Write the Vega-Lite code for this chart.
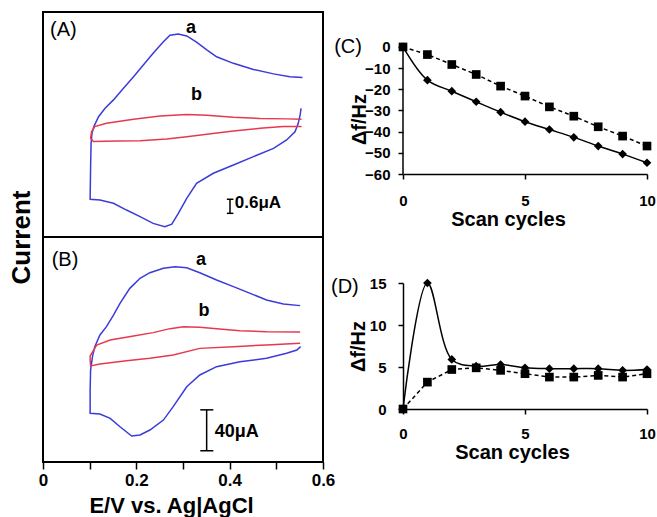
{
  "$schema": "https://vega.github.io/schema/vega-lite/v6.json",
  "padding": {"left": 7, "top": 11, "right": 0, "bottom": 0},
  "config": {
    "font": "Liberation Sans",
    "view": {"stroke": null},
    "axis": {"grid": false, "domainColor": "black", "tickColor": "black", "labelColor": "black", "titleColor": "black", "labelFontWeight": "bold", "titleFontWeight": "bold", "domainWidth": 1.5, "tickWidth": 1.5}
  },
  "datasets": {
    "cv": [
      {"panel": "A", "curve": "a", "i": 1, "E": 0.556, "I": 2.01},
      {"panel": "A", "curve": "a", "i": 2, "E": 0.529, "I": 2.04},
      {"panel": "A", "curve": "a", "i": 3, "E": 0.494, "I": 2.16},
      {"panel": "A", "curve": "a", "i": 4, "E": 0.451, "I": 2.35},
      {"panel": "A", "curve": "a", "i": 5, "E": 0.408, "I": 2.61},
      {"panel": "A", "curve": "a", "i": 6, "E": 0.372, "I": 2.89},
      {"panel": "A", "curve": "a", "i": 7, "E": 0.351, "I": 3.18},
      {"panel": "A", "curve": "a", "i": 8, "E": 0.329, "I": 3.51},
      {"panel": "A", "curve": "a", "i": 9, "E": 0.308, "I": 3.78},
      {"panel": "A", "curve": "a", "i": 10, "E": 0.29, "I": 3.86},
      {"panel": "A", "curve": "a", "i": 11, "E": 0.272, "I": 3.81},
      {"panel": "A", "curve": "a", "i": 12, "E": 0.258, "I": 3.53},
      {"panel": "A", "curve": "a", "i": 13, "E": 0.236, "I": 3.04},
      {"panel": "A", "curve": "a", "i": 14, "E": 0.215, "I": 2.54},
      {"panel": "A", "curve": "a", "i": 15, "E": 0.194, "I": 2.04},
      {"panel": "A", "curve": "a", "i": 16, "E": 0.172, "I": 1.54},
      {"panel": "A", "curve": "a", "i": 17, "E": 0.151, "I": 1.05},
      {"panel": "A", "curve": "a", "i": 18, "E": 0.133, "I": 0.69},
      {"panel": "A", "curve": "a", "i": 19, "E": 0.119, "I": 0.33},
      {"panel": "A", "curve": "a", "i": 20, "E": 0.109, "I": -0.09},
      {"panel": "A", "curve": "a", "i": 21, "E": 0.105, "I": -0.38},
      {"panel": "A", "curve": "a", "i": 22, "E": 0.103, "I": -0.8},
      {"panel": "A", "curve": "a", "i": 23, "E": 0.102, "I": -1.8},
      {"panel": "A", "curve": "a", "i": 24, "E": 0.101, "I": -3.19},
      {"panel": "A", "curve": "a", "i": 25, "E": 0.122, "I": -3.22},
      {"panel": "A", "curve": "a", "i": 26, "E": 0.151, "I": -3.36},
      {"panel": "A", "curve": "a", "i": 27, "E": 0.179, "I": -3.65},
      {"panel": "A", "curve": "a", "i": 28, "E": 0.208, "I": -3.93},
      {"panel": "A", "curve": "a", "i": 29, "E": 0.236, "I": -4.22},
      {"panel": "A", "curve": "a", "i": 30, "E": 0.261, "I": -4.36},
      {"panel": "A", "curve": "a", "i": 31, "E": 0.276, "I": -4.25},
      {"panel": "A", "curve": "a", "i": 32, "E": 0.29, "I": -3.79},
      {"panel": "A", "curve": "a", "i": 33, "E": 0.308, "I": -3.15},
      {"panel": "A", "curve": "a", "i": 34, "E": 0.329, "I": -2.51},
      {"panel": "A", "curve": "a", "i": 35, "E": 0.365, "I": -2.08},
      {"panel": "A", "curve": "a", "i": 36, "E": 0.408, "I": -1.73},
      {"panel": "A", "curve": "a", "i": 37, "E": 0.451, "I": -1.37},
      {"panel": "A", "curve": "a", "i": 38, "E": 0.494, "I": -1.02},
      {"panel": "A", "curve": "a", "i": 39, "E": 0.522, "I": -0.66},
      {"panel": "A", "curve": "a", "i": 40, "E": 0.54, "I": -0.31},
      {"panel": "A", "curve": "a", "i": 41, "E": 0.547, "I": 0.05},
      {"panel": "A", "curve": "a", "i": 42, "E": 0.551, "I": 0.41},
      {"panel": "A", "curve": "a", "i": 43, "E": 0.553, "I": 0.69},
      {"panel": "A", "curve": "b", "i": 1, "E": 0.554, "I": -0.09},
      {"panel": "A", "curve": "b", "i": 2, "E": 0.515, "I": -0.09},
      {"panel": "A", "curve": "b", "i": 3, "E": 0.465, "I": -0.16},
      {"panel": "A", "curve": "b", "i": 4, "E": 0.408, "I": -0.28},
      {"panel": "A", "curve": "b", "i": 5, "E": 0.351, "I": -0.42},
      {"panel": "A", "curve": "b", "i": 6, "E": 0.308, "I": -0.52},
      {"panel": "A", "curve": "b", "i": 7, "E": 0.265, "I": -0.62},
      {"panel": "A", "curve": "b", "i": 8, "E": 0.208, "I": -0.69},
      {"panel": "A", "curve": "b", "i": 9, "E": 0.158, "I": -0.7},
      {"panel": "A", "curve": "b", "i": 10, "E": 0.108, "I": -0.73},
      {"panel": "A", "curve": "b", "i": 11, "E": 0.102, "I": -0.59},
      {"panel": "A", "curve": "b", "i": 12, "E": 0.104, "I": -0.31},
      {"panel": "A", "curve": "b", "i": 13, "E": 0.111, "I": -0.09},
      {"panel": "A", "curve": "b", "i": 14, "E": 0.136, "I": 0.05},
      {"panel": "A", "curve": "b", "i": 15, "E": 0.194, "I": 0.22},
      {"panel": "A", "curve": "b", "i": 16, "E": 0.251, "I": 0.36},
      {"panel": "A", "curve": "b", "i": 17, "E": 0.308, "I": 0.43},
      {"panel": "A", "curve": "b", "i": 18, "E": 0.351, "I": 0.39},
      {"panel": "A", "curve": "b", "i": 19, "E": 0.408, "I": 0.31},
      {"panel": "A", "curve": "b", "i": 20, "E": 0.465, "I": 0.26},
      {"panel": "A", "curve": "b", "i": 21, "E": 0.522, "I": 0.24},
      {"panel": "A", "curve": "b", "i": 22, "E": 0.554, "I": 0.22},
      {"panel": "B", "curve": "a", "i": 1, "E": 0.551, "I": 42.9},
      {"panel": "B", "curve": "a", "i": 2, "E": 0.515, "I": 44.5},
      {"panel": "B", "curve": "a", "i": 3, "E": 0.479, "I": 48.4},
      {"panel": "B", "curve": "a", "i": 4, "E": 0.444, "I": 54.9},
      {"panel": "B", "curve": "a", "i": 5, "E": 0.408, "I": 61.5},
      {"panel": "B", "curve": "a", "i": 6, "E": 0.372, "I": 68.0},
      {"panel": "B", "curve": "a", "i": 7, "E": 0.336, "I": 75.1},
      {"panel": "B", "curve": "a", "i": 8, "E": 0.308, "I": 80.0},
      {"panel": "B", "curve": "a", "i": 9, "E": 0.283, "I": 81.0},
      {"panel": "B", "curve": "a", "i": 10, "E": 0.258, "I": 79.4},
      {"panel": "B", "curve": "a", "i": 11, "E": 0.229, "I": 75.1},
      {"panel": "B", "curve": "a", "i": 12, "E": 0.208, "I": 69.6},
      {"panel": "B", "curve": "a", "i": 13, "E": 0.186, "I": 59.8},
      {"panel": "B", "curve": "a", "i": 14, "E": 0.165, "I": 45.2},
      {"panel": "B", "curve": "a", "i": 15, "E": 0.151, "I": 33.7},
      {"panel": "B", "curve": "a", "i": 16, "E": 0.136, "I": 22.3},
      {"panel": "B", "curve": "a", "i": 17, "E": 0.122, "I": 14.2},
      {"panel": "B", "curve": "a", "i": 18, "E": 0.111, "I": 2.8},
      {"panel": "B", "curve": "a", "i": 19, "E": 0.106, "I": -7.0},
      {"panel": "B", "curve": "a", "i": 20, "E": 0.102, "I": -20.1},
      {"panel": "B", "curve": "a", "i": 21, "E": 0.101, "I": -39.6},
      {"panel": "B", "curve": "a", "i": 22, "E": 0.101, "I": -62.4},
      {"panel": "B", "curve": "a", "i": 23, "E": 0.122, "I": -63.1},
      {"panel": "B", "curve": "a", "i": 24, "E": 0.144, "I": -67.3},
      {"panel": "B", "curve": "a", "i": 25, "E": 0.165, "I": -75.5},
      {"panel": "B", "curve": "a", "i": 26, "E": 0.19, "I": -84.6},
      {"panel": "B", "curve": "a", "i": 27, "E": 0.208, "I": -83.6},
      {"panel": "B", "curve": "a", "i": 28, "E": 0.229, "I": -78.7},
      {"panel": "B", "curve": "a", "i": 29, "E": 0.258, "I": -69.0},
      {"panel": "B", "curve": "a", "i": 30, "E": 0.279, "I": -55.9},
      {"panel": "B", "curve": "a", "i": 31, "E": 0.308, "I": -36.4},
      {"panel": "B", "curve": "a", "i": 32, "E": 0.336, "I": -24.9},
      {"panel": "B", "curve": "a", "i": 33, "E": 0.372, "I": -16.8},
      {"panel": "B", "curve": "a", "i": 34, "E": 0.422, "I": -11.9},
      {"panel": "B", "curve": "a", "i": 35, "E": 0.479, "I": -8.6},
      {"panel": "B", "curve": "a", "i": 36, "E": 0.522, "I": -3.7},
      {"panel": "B", "curve": "a", "i": 37, "E": 0.544, "I": -0.5},
      {"panel": "B", "curve": "a", "i": 38, "E": 0.552, "I": 2.8},
      {"panel": "B", "curve": "b", "i": 1, "E": 0.551, "I": 6.0},
      {"panel": "B", "curve": "b", "i": 2, "E": 0.479, "I": 4.4},
      {"panel": "B", "curve": "b", "i": 3, "E": 0.408, "I": 2.8},
      {"panel": "B", "curve": "b", "i": 4, "E": 0.336, "I": 1.1},
      {"panel": "B", "curve": "b", "i": 5, "E": 0.279, "I": -5.4},
      {"panel": "B", "curve": "b", "i": 6, "E": 0.229, "I": -8.6},
      {"panel": "B", "curve": "b", "i": 7, "E": 0.179, "I": -10.9},
      {"panel": "B", "curve": "b", "i": 8, "E": 0.122, "I": -14.2},
      {"panel": "B", "curve": "b", "i": 9, "E": 0.102, "I": -16.1},
      {"panel": "B", "curve": "b", "i": 10, "E": 0.101, "I": -10.3},
      {"panel": "B", "curve": "b", "i": 11, "E": 0.101, "I": -6.4},
      {"panel": "B", "curve": "b", "i": 12, "E": 0.115, "I": 4.4},
      {"panel": "B", "curve": "b", "i": 13, "E": 0.144, "I": 9.3},
      {"panel": "B", "curve": "b", "i": 14, "E": 0.194, "I": 13.2},
      {"panel": "B", "curve": "b", "i": 15, "E": 0.236, "I": 16.5},
      {"panel": "B", "curve": "b", "i": 16, "E": 0.272, "I": 20.4},
      {"panel": "B", "curve": "b", "i": 17, "E": 0.301, "I": 22.3},
      {"panel": "B", "curve": "b", "i": 18, "E": 0.336, "I": 21.7},
      {"panel": "B", "curve": "b", "i": 19, "E": 0.372, "I": 20.4},
      {"panel": "B", "curve": "b", "i": 20, "E": 0.422, "I": 18.4},
      {"panel": "B", "curve": "b", "i": 21, "E": 0.479, "I": 17.4},
      {"panel": "B", "curve": "b", "i": 22, "E": 0.551, "I": 17.1}
    ],
    "qcm": [
      {"panel": "C", "series": "square", "cycle": 0, "df": 0},
      {"panel": "C", "series": "square", "cycle": 1, "df": -3.6},
      {"panel": "C", "series": "square", "cycle": 2, "df": -8.3},
      {"panel": "C", "series": "square", "cycle": 3, "df": -13.0},
      {"panel": "C", "series": "square", "cycle": 4, "df": -18.5},
      {"panel": "C", "series": "square", "cycle": 5, "df": -23.2},
      {"panel": "C", "series": "square", "cycle": 6, "df": -28.3},
      {"panel": "C", "series": "square", "cycle": 7, "df": -32.7},
      {"panel": "C", "series": "square", "cycle": 8, "df": -37.7},
      {"panel": "C", "series": "square", "cycle": 9, "df": -42.1},
      {"panel": "C", "series": "square", "cycle": 10, "df": -46.8},
      {"panel": "C", "series": "diamond", "cycle": 0, "df": 0},
      {"panel": "C", "series": "diamond", "cycle": 1, "df": -15.7},
      {"panel": "C", "series": "diamond", "cycle": 2, "df": -20.9},
      {"panel": "C", "series": "diamond", "cycle": 3, "df": -25.9},
      {"panel": "C", "series": "diamond", "cycle": 4, "df": -30.8},
      {"panel": "C", "series": "diamond", "cycle": 5, "df": -35.3},
      {"panel": "C", "series": "diamond", "cycle": 6, "df": -39.0},
      {"panel": "C", "series": "diamond", "cycle": 7, "df": -42.7},
      {"panel": "C", "series": "diamond", "cycle": 8, "df": -46.8},
      {"panel": "C", "series": "diamond", "cycle": 9, "df": -50.6},
      {"panel": "C", "series": "diamond", "cycle": 10, "df": -54.7},
      {"panel": "D", "series": "diamond", "cycle": 0, "df": 0},
      {"panel": "D", "series": "diamond", "cycle": 1, "df": 15.0},
      {"panel": "D", "series": "diamond", "cycle": 2, "df": 5.9},
      {"panel": "D", "series": "diamond", "cycle": 3, "df": 5.1},
      {"panel": "D", "series": "diamond", "cycle": 4, "df": 5.3},
      {"panel": "D", "series": "diamond", "cycle": 5, "df": 4.9},
      {"panel": "D", "series": "diamond", "cycle": 6, "df": 4.8},
      {"panel": "D", "series": "diamond", "cycle": 7, "df": 4.8},
      {"panel": "D", "series": "diamond", "cycle": 8, "df": 4.8},
      {"panel": "D", "series": "diamond", "cycle": 9, "df": 4.6},
      {"panel": "D", "series": "diamond", "cycle": 10, "df": 4.7},
      {"panel": "D", "series": "square", "cycle": 0, "df": 0},
      {"panel": "D", "series": "square", "cycle": 1, "df": 3.2},
      {"panel": "D", "series": "square", "cycle": 2, "df": 4.7},
      {"panel": "D", "series": "square", "cycle": 3, "df": 4.9},
      {"panel": "D", "series": "square", "cycle": 4, "df": 4.6},
      {"panel": "D", "series": "square", "cycle": 5, "df": 4.2},
      {"panel": "D", "series": "square", "cycle": 6, "df": 3.8},
      {"panel": "D", "series": "square", "cycle": 7, "df": 3.8},
      {"panel": "D", "series": "square", "cycle": 8, "df": 4.0},
      {"panel": "D", "series": "square", "cycle": 9, "df": 3.8},
      {"panel": "D", "series": "square", "cycle": 10, "df": 4.2}
    ]
  },
  "columns": 2,
  "align": "none",
  "spacing": -5,
  "concat": [
    {
      "spacing": 0,
      "bounds": "flush",
      "vconcat": [
        {
          "width": 280,
          "height": 225,
          "view": {"stroke": "black", "strokeWidth": 2},
          "encoding": {
            "x": {"type": "quantitative", "scale": {"domain": [0, 0.6], "nice": false}, "axis": null},
            "y": {"type": "quantitative", "scale": {"domain": [-4.8, 4.8], "nice": false, "zero": false},
                  "axis": {"title": "Current", "domain": false, "ticks": false, "labels": false, "titleFontSize": 26, "titleX": -14, "titleY": 225, "titleAngle": 270, "titleAlign": "center", "titleBaseline": "alphabetic"}}
          },
          "layer": [
            {
              "data": {"name": "cv"},
              "transform": [{"filter": "datum.panel === 'A'"}],
              "mark": {"type": "line", "strokeWidth": 1.5},
              "encoding": {
                "x": {"field": "E", "type": "quantitative"},
                "y": {"field": "I", "type": "quantitative"},
                "color": {"field": "curve", "type": "nominal", "scale": {"domain": ["a", "b"], "range": ["#3b3bd9", "#e8384f"]}, "legend": null},
                "order": {"field": "i", "type": "quantitative"}
              }
            },
            {
              "data": {"values": [{"E": 0.4007, "lo": -3.79, "hi": -3.19}]},
              "mark": {"type": "rule", "color": "black", "strokeWidth": 1.5},
              "encoding": {"x": {"field": "E", "type": "quantitative"}, "y": {"field": "lo", "type": "quantitative"}, "y2": {"field": "hi"}}
            },
            {
              "data": {"values": [{"E1": 0.394, "E2": 0.408, "I": -3.79}, {"E1": 0.394, "E2": 0.408, "I": -3.19}]},
              "mark": {"type": "rule", "color": "black", "strokeWidth": 1.5},
              "encoding": {"x": {"field": "E1", "type": "quantitative"}, "x2": {"field": "E2"}, "y": {"field": "I", "type": "quantitative"}}
            },
            {
              "data": {"values": [{"E": 0.015, "I": 4.03, "t": "(A)"}]},
              "mark": {"type": "text", "align": "left", "baseline": "middle", "fontSize": 20, "color": "black"},
              "encoding": {"x": {"field": "E", "type": "quantitative"}, "y": {"field": "I", "type": "quantitative"}, "text": {"field": "t"}}
            },
            {
              "data": {"values": [{"E": 0.317, "I": 3.89, "t": "a"}, {"E": 0.329, "I": 1.05, "t": "b"}]},
              "mark": {"type": "text", "align": "center", "baseline": "alphabetic", "fontSize": 18, "fontWeight": "bold", "color": "black"},
              "encoding": {"x": {"field": "E", "type": "quantitative"}, "y": {"field": "I", "type": "quantitative"}, "text": {"field": "t"}}
            },
            {
              "data": {"values": [{"E": 0.411, "I": -3.58, "t": "0.6μA"}]},
              "mark": {"type": "text", "align": "left", "baseline": "alphabetic", "fontSize": 17, "fontWeight": "bold", "color": "black"},
              "encoding": {"x": {"field": "E", "type": "quantitative"}, "y": {"field": "I", "type": "quantitative"}, "text": {"field": "t"}}
            }
          ]
        },
        {
          "width": 280,
          "height": 225,
          "view": {"stroke": "black", "strokeWidth": 2},
          "encoding": {
            "x": {"type": "quantitative", "scale": {"domain": [0, 0.6], "nice": false},
                  "axis": {"title": "E/V vs. Ag|AgCl", "values": [0, 0.1, 0.2, 0.3, 0.4, 0.5, 0.6], "format": ".1~f", "labelExpr": "round(datum.value * 10) % 2 == 0 ? datum.label : ''", "domain": false, "tickSize": 7, "labelPadding": 16, "labelBaseline": "alphabetic", "labelFontSize": 17, "labelFlush": false, "labelOverlap": false, "titleFontSize": 22, "titleX": 128, "titleY": 50, "titleBaseline": "alphabetic"}},
            "y": {"type": "quantitative", "scale": {"domain": [-110, 110], "nice": false, "zero": false}, "axis": null}
          },
          "layer": [
            {
              "data": {"name": "cv"},
              "transform": [{"filter": "datum.panel === 'B'"}],
              "mark": {"type": "line", "strokeWidth": 1.5},
              "encoding": {
                "x": {"field": "E", "type": "quantitative"},
                "y": {"field": "I", "type": "quantitative"},
                "color": {"field": "curve", "type": "nominal", "scale": {"domain": ["a", "b"], "range": ["#3b3bd9", "#e8384f"]}, "legend": null},
                "order": {"field": "i", "type": "quantitative"}
              }
            },
            {
              "data": {"values": [{"E": 0.3507, "lo": -99, "hi": -59}]},
              "mark": {"type": "rule", "color": "black", "strokeWidth": 1.5},
              "encoding": {"x": {"field": "E", "type": "quantitative"}, "y": {"field": "lo", "type": "quantitative"}, "y2": {"field": "hi"}}
            },
            {
              "data": {"values": [{"E1": 0.337, "E2": 0.365, "I": -99}, {"E1": 0.337, "E2": 0.365, "I": -59}]},
              "mark": {"type": "rule", "color": "black", "strokeWidth": 1.5},
              "encoding": {"x": {"field": "E1", "type": "quantitative"}, "x2": {"field": "E2"}, "y": {"field": "I", "type": "quantitative"}}
            },
            {
              "data": {"values": [{"E": 0.0186, "I": 87.5, "t": "(B)"}]},
              "mark": {"type": "text", "align": "left", "baseline": "middle", "fontSize": 20, "color": "black"},
              "encoding": {"x": {"field": "E", "type": "quantitative"}, "y": {"field": "I", "type": "quantitative"}, "text": {"field": "t"}}
            },
            {
              "data": {"values": [{"E": 0.3386, "I": 82.6, "t": "a"}, {"E": 0.345, "I": 32.8, "t": "b"}]},
              "mark": {"type": "text", "align": "center", "baseline": "alphabetic", "fontSize": 18, "fontWeight": "bold", "color": "black"},
              "encoding": {"x": {"field": "E", "type": "quantitative"}, "y": {"field": "I", "type": "quantitative"}, "text": {"field": "t"}}
            },
            {
              "data": {"values": [{"E": 0.368, "I": -85.3, "t": "40μA"}]},
              "mark": {"type": "text", "align": "left", "baseline": "alphabetic", "fontSize": 18, "fontWeight": "bold", "color": "black"},
              "encoding": {"x": {"field": "E", "type": "quantitative"}, "y": {"field": "I", "type": "quantitative"}, "text": {"field": "t"}}
            }
          ]
        }
      ]
    },
    {
      "spacing": 109,
      "bounds": "flush",
      "vconcat": [
        {
          "width": 244,
          "height": 162,
          "data": {"name": "qcm"},
          "transform": [{"filter": "datum.panel === 'C'"}],
          "encoding": {
            "x": {"field": "cycle", "type": "quantitative", "scale": {"domain": [0, 10], "nice": false},
                  "axis": {"title": "Scan cycles", "values": [0, 5, 10], "tickSize": 5, "labelPadding": 26, "labelBaseline": "alphabetic", "labelFontSize": 15, "labelFlush": false, "titleFontSize": 20, "titleX": 105, "titleY": 51, "titleBaseline": "alphabetic"}},
            "y": {"field": "df", "type": "quantitative", "scale": {"domain": [-60, 16.5], "nice": false},
                  "axis": {"title": "Δf/Hz", "values": [-60, -50, -40, -30, -20, -10, 0], "domain": false, "tickSize": 5, "labelPadding": 8, "labelFontSize": 15, "labelFlush": false, "titleFontSize": 20, "titleX": -38, "titleY": 107, "titleAngle": 270, "titleAlign": "center", "titleBaseline": "alphabetic"}}
          },
          "layer": [
            {"data": {"values": [{"cycle": 0, "lo": -60, "hi": 0}]}, "transform": [],
             "mark": {"type": "rule", "color": "black", "strokeWidth": 1.5},
             "encoding": {"y": {"field": "lo", "type": "quantitative"}, "y2": {"field": "hi"}}},
            {"transform": [{"filter": "datum.series === 'diamond'"}], "mark": {"type": "line", "color": "black", "strokeWidth": 1.5, "interpolate": "catmull-rom"}},
            {"transform": [{"filter": "datum.series === 'square'"}], "mark": {"type": "line", "color": "black", "strokeWidth": 1.5, "strokeDash": [4, 3]}},
            {"mark": {"type": "point", "filled": true, "color": "black", "opacity": 1, "size": 75},
             "encoding": {"shape": {"field": "series", "type": "nominal", "scale": {"domain": ["diamond", "square"], "range": ["diamond", "square"]}, "legend": null}}},
            {"data": {"values": [{"cycle": -2.82, "df": 0, "t": "(C)"}]}, "transform": [],
             "mark": {"type": "text", "align": "left", "baseline": "middle", "fontSize": 20, "color": "black"},
             "encoding": {"text": {"field": "t"}}}
          ]
        },
        {
          "width": 244,
          "height": 126,
          "data": {"name": "qcm"},
          "transform": [{"filter": "datum.panel === 'D'"}],
          "encoding": {
            "x": {"field": "cycle", "type": "quantitative", "scale": {"domain": [0, 10], "nice": false},
                  "axis": {"title": "Scan cycles", "values": [0, 5, 10], "tickSize": 5, "labelPadding": 24, "labelBaseline": "alphabetic", "labelFontSize": 15, "labelFlush": false, "titleFontSize": 20, "titleX": 109, "titleY": 49, "titleBaseline": "alphabetic"}},
            "y": {"field": "df", "type": "quantitative", "scale": {"domain": [0, 15], "nice": false},
                  "axis": {"title": "Δf/Hz", "values": [0, 5, 10, 15], "tickSize": 5, "labelPadding": 12, "labelFontSize": 15, "labelFlush": false, "titleFontSize": 20, "titleX": -39, "titleY": 63, "titleAngle": 270, "titleAlign": "center", "titleBaseline": "alphabetic"}}
          },
          "layer": [
            {"transform": [{"filter": "datum.series === 'diamond'"}], "mark": {"type": "line", "color": "black", "strokeWidth": 1.5, "interpolate": "catmull-rom"}},
            {"transform": [{"filter": "datum.series === 'square'"}], "mark": {"type": "line", "color": "black", "strokeWidth": 1.5, "strokeDash": [4, 3]}},
            {"mark": {"type": "point", "filled": true, "color": "black", "opacity": 1, "size": 75},
             "encoding": {"shape": {"field": "series", "type": "nominal", "scale": {"domain": ["diamond", "square"], "range": ["diamond", "square"]}, "legend": null}}},
            {"data": {"values": [{"cycle": -2.95, "df": 14.5, "t": "(D)"}]}, "transform": [],
             "mark": {"type": "text", "align": "left", "baseline": "middle", "fontSize": 20, "color": "black"},
             "encoding": {"text": {"field": "t"}}}
          ]
        }
      ]
    }
  ]
}
